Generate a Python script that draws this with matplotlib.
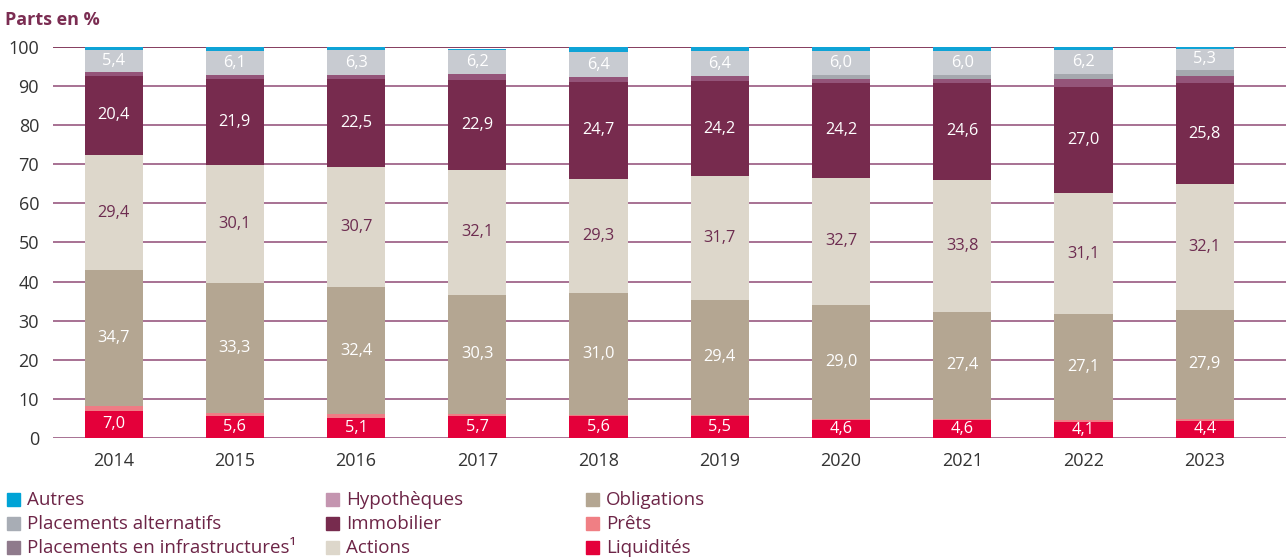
import matplotlib.pyplot as plt
from matplotlib.patches import Rectangle
import numpy as np

plt.rcParams['font.family'] = ['Open Sans', 'DejaVu Sans']

# Données (parts en %)
annees = ['2014', '2015', '2016', '2017', '2018', '2019', '2020', '2021', '2022', '2023']
liquidites = [7.0, 5.6, 5.1, 5.7, 5.6, 5.5, 4.6, 4.6, 4.1, 4.4]
prets = [1.2, 0.8, 1.0, 0.5, 0.4, 0.4, 0.3, 0.3, 0.4, 0.5]
obligations = [34.7, 33.3, 32.4, 30.3, 31.0, 29.4, 29.0, 27.4, 27.1, 27.9]
actions = [29.4, 30.1, 30.7, 32.1, 29.3, 31.7, 32.7, 33.8, 31.1, 32.1]
immobilier = [20.4, 21.9, 22.5, 22.9, 24.7, 24.2, 24.2, 24.6, 27.0, 25.8]
hypotheques = [1.0, 1.1, 1.1, 1.5, 1.3, 1.3, 1.1, 1.2, 2.0, 1.9]
infrastructures = [0.0, 0.0, 0.0, 0.0, 0.0, 0.0, 1.0, 1.0, 1.3, 1.6]
alternatifs = [5.4, 6.1, 6.3, 6.2, 6.4, 6.4, 6.0, 6.0, 6.2, 5.3]
autres = [0.9, 1.1, 0.9, 0.4, 1.3, 1.1, 1.0, 1.1, 0.8, 0.5]

series = [
    ('Liquidités', liquidites, '#e4003a', 'white'),
    ('Prêts', prets, '#ef7c85', None),
    ('Obligations', obligations, '#b4a692', 'white'),
    ('Actions', actions, '#ddd7cb', '#6d2c50'),
    ('Immobilier', immobilier, '#772b4e', 'white'),
    ('Hypothèques', hypotheques, '#945479', None),
    ('Placements en infrastructures¹', infrastructures, '#a5a8ae', None),
    ('Placements alternatifs', alternatifs, '#c8cbd1', 'white'),
    ('Autres', autres, '#0fa3d6', None),
]

fig = plt.figure(figsize=(12.86, 5.59), dpi=100)
ax = fig.add_axes([0.0412, 0.2165, 0.9588, 0.6995])

x = np.arange(len(annees))
largeur = 0.48
bas = np.zeros(len(annees))
for nom, vals, couleur, col_txt in series:
    vals = np.array(vals)
    ax.bar(x, vals, largeur, bottom=bas, color=couleur, linewidth=0, zorder=3)
    if col_txt is not None:
        for xi, b, v in zip(x, bas, vals):
            ax.text(xi, b + v / 2, f'{v:.1f}'.replace('.', ','), ha='center', va='center',
                    color=col_txt, fontsize=11.8, zorder=4)
    bas += vals

ax.set_ylim(0, 100)
ax.set_xlim(-0.5, 9.67)
ax.set_yticks(range(0, 101, 10))
for y in range(0, 101, 10):
    ax.axhline(y, color='#7b2d52' if y == 100 else '#a0668a', linewidth=1.3, zorder=1)
ax.set_xticks(x)
ax.set_xticklabels(annees)
ax.tick_params(axis='both', length=0, labelsize=13, colors='#333333')
ax.tick_params(axis='y', pad=10)
ax.tick_params(axis='x', pad=10)
for s in ax.spines.values():
    s.set_visible(False)

fig.text(0.004, 0.965, 'Parts en %', fontsize=13, fontweight='bold', color='#7b2d52',
         ha='left', va='center')

# Légende en trois colonnes (couleurs de la légende d'origine)
legende = [
    ('Autres', '#00a3d6'), ('Placements alternatifs', '#a8adb5'),
    ('Placements en infrastructures¹', '#8f7a8c'),
    ('Hypothèques', '#c495b0'), ('Immobilier', '#772b4e'), ('Actions', '#ddd7cb'),
    ('Obligations', '#b4a692'), ('Prêts', '#f07f84'), ('Liquidités', '#e4003a'),
]
cols_x = [7, 326, 586]
rows_y = [500, 524, 548]
W, H = 1286, 559
for i, (nom, c) in enumerate(legende):
    px = cols_x[i // 3]
    py = rows_y[i % 3]
    fig.patches.append(Rectangle((px / W, (H - py - 6) / H), 13 / W, 13 / H,
                                 transform=fig.transFigure, color=c, figure=fig))
    fig.text((px + 20) / W, (H - py) / H, nom, fontsize=13.5, color='#6d2547',
             ha='left', va='center')

fig.savefig('out.png', dpi=100)
